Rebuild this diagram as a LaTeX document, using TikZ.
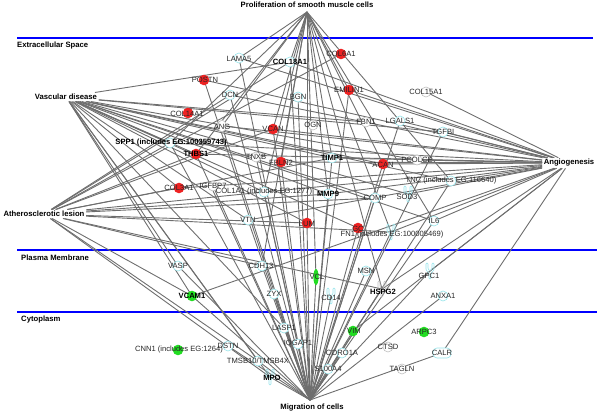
\documentclass[tikz,border=0pt]{standalone}
\usepackage{fontspec}
\setmainfont{Liberation Sans}
\usetikzlibrary{calc}
\begin{document}
\begin{tikzpicture}[x=1pt,y=-1pt,
  edge/.style={draw=black!57, line width=0.9pt},
  fn/.style={font=\fontsize{7.7}{9}\selectfont\bfseries, inner sep=1.5pt},
  lbl/.style={font=\fontsize{7.6}{9}\selectfont, text=black!85, inner sep=0pt},
  blbl/.style={font=\fontsize{7.6}{9}\selectfont\bfseries, text=black, inner sep=0pt},
  cmp/.style={font=\fontsize{7.7}{9}\selectfont\bfseries, inner sep=0pt, anchor=west},
  sep/.style={draw={rgb,255:red,0;green,0;blue,255}, line width=1.4pt},
  redsym/.style={fill={rgb,255:red,238;green,34;blue,34}},
  grnsym/.style={fill={rgb,255:red,34;green,221;blue,34}},
  cyansym/.style={draw={rgb,255:red,150;green,228;blue,235}, fill=white, line width=0.6pt},
  greysym/.style={draw=black!25, fill=white, line width=0.6pt},
  rcpt/.pic={\draw[rounded corners=1pt,#1] (-4,-8) -- (-4,-1) -- (-1,2) -- (-1,8) -- (1,8) -- (1,2) -- (4,-1) -- (4,-8) -- (2,-8) -- (2,-2) -- (0,0) -- (-2,-2) -- (-2,-8) -- cycle;}
]
\useasboundingbox (0,0) rectangle (600,414);

% compartment separators
\draw[sep] (17,38) coordinate (s1a) -- (593,38) coordinate (s1b);
\draw[sep] (17,250) coordinate (s2a) -- (597,250) coordinate (s2b);
\draw[sep] (17,312) coordinate (s3a) -- (597,312) coordinate (s3b);
\node[cmp] (cmpEx) at (17,46) {Extracellular Space};
\node[cmp] (cmpPM) at (21,258) {Plasma Membrane};
\node[cmp] (cmpCy) at (21,320) {Cytoplasm};

% function nodes
\node[fn] (PRl) at (307,5) {Proliferation of smooth muscle cells};
\coordinate (PR) at (307,12);
\node[fn] (VD) at (66,97) {Vascular disease};
\node[fn] (AN) at (569,163) {Angiogenesis};
\node[fn] (AL) at (44,214) {Atherosclerotic lesion};
\node[fn] (MCl) at (312,408) {Migration of cells};
\coordinate (MC) at (310,400);

% gene positions
\coordinate (LAMA5) at (239,58);
\coordinate (COL18A1) at (290,62);
\coordinate (COL6A1) at (341,54);
\coordinate (POSTN) at (204,80);
\coordinate (EMILIN1) at (349,90);
\coordinate (COL15A1) at (426,92);
\coordinate (DCN) at (230,95);
\coordinate (BGN) at (298,97);
\coordinate (COL14A1) at (188,113);
\coordinate (ANG) at (222,126);
\coordinate (VCAN) at (273,129);
\coordinate (OGN) at (313,125);
\coordinate (FBN1) at (366,122);
\coordinate (LGALS1) at (400,121);
\coordinate (TGFBI) at (443,132);
\coordinate (SPP1) at (170,143);
\coordinate (THBS1) at (196,154);
\coordinate (TNXB) at (256,157);
\coordinate (FBLN2) at (281,162);
\coordinate (TIMP1) at (332,158);
\coordinate (ACAN) at (383,164);
\coordinate (PCOLCE) at (417,160);
\coordinate (COL3A1) at (179,188);
\coordinate (IGFBP7) at (213,186);
\coordinate (COL1A1) at (264,192);
\coordinate (MMP9) at (328,194);
\coordinate (TNC) at (451,181);
\coordinate (COMP) at (375,198);
\coordinate (SOD3) at (408,194);
\coordinate (VTN) at (248,220);
\coordinate (IL6) at (434,221);
\coordinate (LUM) at (307,223);
\coordinate (GC) at (358,228);
\coordinate (FN1) at (391,232);
\coordinate (VASP) at (178,266);
\coordinate (CDH13) at (262,266);
\coordinate (VCL) at (316,277);
\coordinate (MSN) at (366,271);
\coordinate (GPC1) at (430,271);
\coordinate (VCAM1) at (192,296);
\coordinate (ZYX) at (274,294);
\coordinate (CD14) at (331,296);
\coordinate (HSPG2) at (382,289);
\coordinate (ANXA1) at (443,296);
\coordinate (LASP1) at (284,328);
\coordinate (VIM) at (353,331);
\coordinate (ARPC3) at (424,332);
\coordinate (DSTN) at (228,346);
\coordinate (IQGAP1) at (298,344);
\coordinate (CNN1) at (178,350);
\coordinate (CORO1A) at (342,353);
\coordinate (CTSD) at (388,347);
\coordinate (CALR) at (442,353);
\coordinate (TMSB) at (258,361);
\coordinate (S100A4) at (328,369);
\coordinate (TAGLN) at (402,369);
\coordinate (MPO) at (270,377);

% connectors
\foreach \g in {LAMA5,COL18A1,SPP1,THBS1,ANG,VCAN,COL1A1,FBLN2,TIMP1,MMP9,LUM,FN1,EMILIN1,ACAN,TNC,IL6,CDH13,VCL,HSPG2}
  \draw[edge] (PR) -- (\g);
\foreach \g in {COL18A1,FBN1,TGFBI,PCOLCE,TIMP1,ACAN,TNC,SOD3,IL6,COMP,MMP9,THBS1,SPP1,COL3A1,COL1A1,VTN,LUM,GC,VASP,VCAM1,MPO,TMSB,LASP1}
  \draw[edge] (VD) -- (\g);
\foreach \g in {SPP1,THBS1,COL18A1,COL6A1,DCN,VCAN,COL3A1,COL1A1,TIMP1,MMP9,COMP,FN1,HSPG2,VCAM1,TMSB,MPO,CDH13,LUM}
  \draw[edge] (AL) -- (\g);
\foreach \g in {COL18A1,LAMA5,EMILIN1,COL15A1,DCN,ANG,VCAN,LGALS1,TGFBI,THBS1,SPP1,TIMP1,FBLN2,COL1A1,MMP9,TNC,FN1,IL6,SOD3,VTN,COL3A1,PCOLCE,ACAN,VCAM1,POSTN,GPC1,HSPG2,VIM,CALR}
  \draw[edge] (AN) -- (\g);
\foreach \g in {MPO,TMSB,S100A4,CORO1A,IQGAP1,LASP1,VIM,DSTN,CALR,ANXA1,GPC1,HSPG2,CD14,VCL,ZYX,CDH13,VASP,VCAM1,MSN,LUM,GC,FN1,MMP9,TIMP1,COL1A1,VTN,THBS1,SPP1,COL18A1,VCAN,FBLN2,ANG,DCN,BGN,LAMA5,POSTN,COMP,ACAN,IL6,TNC,EMILIN1,IGFBP7,LGALS1,TGFBI,TNXB}
  \draw[edge] (MC) -- (\g);

% symbols
\foreach \g in {COL6A1,POSTN,EMILIN1,COL14A1,VCAN,THBS1,FBLN2,ACAN,COL3A1,LUM,GC}
  \fill[redsym] (\g) circle (5.3);
\foreach \g in {VCAM1,VIM,ARPC3,CNN1}
  \fill[grnsym] (\g) circle (5.3);
\foreach \g in {LAMA5,COL18A1,DCN,BGN,LGALS1,TGFBI,SPP1,TIMP1,COL1A1,MMP9,TNC,COMP,VTN,IL6,VASP,CDH13,MSN,ZYX,ANXA1,LASP1,IQGAP1,DSTN,CORO1A,TMSB,S100A4}
  \draw[cyansym] (\g) circle (5);
\foreach \g in {COL15A1,OGN,FBN1,TNXB,PCOLCE,IGFBP7,CTSD,TAGLN}
  \draw[greysym] (\g) circle (5);
\draw[greysym] (ANG) ellipse (4 and 6);
\draw[cyansym, rounded corners=4pt] ($(CALR)+(-9,-5)$) rectangle ($(CALR)+(9,5)$);
\foreach \g in {SOD3,FN1,GPC1,CD14,MPO}
  \pic[cyansym] at (\g) {rcpt};
\pic[greysym] at (HSPG2) {rcpt};
\fill[grnsym] (VCL) ellipse (2.6 and 8);

% gene labels
\node[lbl] (LAMA5-l) at (239,59) {LAMA5};
\node[blbl] (COL18A1-l) at (290,62) {COL18A1};
\node[lbl] (COL6A1-l) at (341,54) {COL6A1};
\node[lbl] (POSTN-l) at (205,80) {POSTN};
\node[lbl] (EMILIN1-l) at (349,90) {EMILIN1};
\node[lbl] (COL15A1-l) at (426,92) {COL15A1};
\node[lbl] (DCN-l) at (230,95) {DCN};
\node[lbl] (BGN-l) at (298,97) {BGN};
\node[lbl] (COL14A1-l) at (187,114) {COL14A1};
\node[lbl] (ANG-l) at (222,127) {ANG};
\node[lbl] (VCAN-l) at (273,129) {VCAN};
\node[lbl] (OGN-l) at (313,125) {OGN};
\node[lbl] (FBN1-l) at (366,122) {FBN1};
\node[lbl] (LGALS1-l) at (400,121) {LGALS1};
\node[lbl] (TGFBI-l) at (443,132) {TGFBI};
\node[blbl] (SPP1-l) at (171,143) {SPP1 (includes EG:100359743)};
\node[blbl] (THBS1-l) at (196,154) {THBS1};
\node[lbl] (TNXB-l) at (256,157) {TNXB};
\node[lbl] (FBLN2-l) at (281,163) {FBLN2};
\node[blbl] (TIMP1-l) at (332,158) {TIMP1};
\node[lbl] (ACAN-l) at (383,165) {ACAN};
\node[lbl] (PCOLCE-l) at (417,160) {PCOLCE};
\node[lbl] (COL3A1-l) at (179,188) {COL3A1};
\node[lbl] (IGFBP7-l) at (213,186) {IGFBP7};
\node[lbl] (COL1A1-l) at (264,192) {COL1A1 (includes EG:1277)};
\node[blbl] (MMP9-l) at (328,194) {MMP9};
\node[lbl] (TNC-l) at (451,181) {TNC (includes EG:116640)};
\node[lbl] (COMP-l) at (375,198) {COMP};
\node[lbl] (SOD3-l) at (407,197) {SOD3};
\node[lbl] (VTN-l) at (248,220) {VTN};
\node[lbl] (IL6-l) at (434,221) {IL6};
\node[lbl] (LUM-l) at (307,224) {LUM};
\node[lbl] (GC-l) at (358,229) {GC};
\node[lbl] (FN1-l) at (392,235) {FN1 (includes EG:100005469)};
\node[lbl] (VASP-l) at (178,266) {VASP};
\node[lbl] (CDH13-l) at (261,266) {CDH13};
\node[lbl] (VCL-l) at (317,277) {VCL};
\node[lbl] (MSN-l) at (366,271) {MSN};
\node[lbl] (GPC1-l) at (429,276) {GPC1};
\node[blbl] (VCAM1-l) at (192,296) {VCAM1};
\node[lbl] (ZYX-l) at (274,294) {ZYX};
\node[lbl] (CD14-l) at (331,298) {CD14};
\node[blbl] (HSPG2-l) at (383,292) {HSPG2};
\node[lbl] (ANXA1-l) at (443,296) {ANXA1};
\node[lbl] (LASP1-l) at (284,328) {LASP1};
\node[lbl] (VIM-l) at (354,331) {VIM};
\node[lbl] (ARPC3-l) at (424,332) {ARPC3};
\node[lbl] (DSTN-l) at (228,346) {DSTN};
\node[lbl] (IQGAP1-l) at (298,344) {IQGAP1};
\node[lbl] (CNN1-l) at (179,350) {CNN1 (includes EG:1264)};
\node[lbl] (CORO1A-l) at (342,353) {CORO1A};
\node[lbl] (CTSD-l) at (388,347) {CTSD};
\node[lbl] (CALR-l) at (442,353) {CALR};
\node[lbl] (TMSB-l) at (258,361) {TMSB10/TMSB4X};
\node[lbl] (S100A4-l) at (328,369) {S100A4};
\node[lbl] (TAGLN-l) at (402,369) {TAGLN};
\node[blbl] (MPO-l) at (272,378) {MPO};
\end{tikzpicture}
\end{document}
